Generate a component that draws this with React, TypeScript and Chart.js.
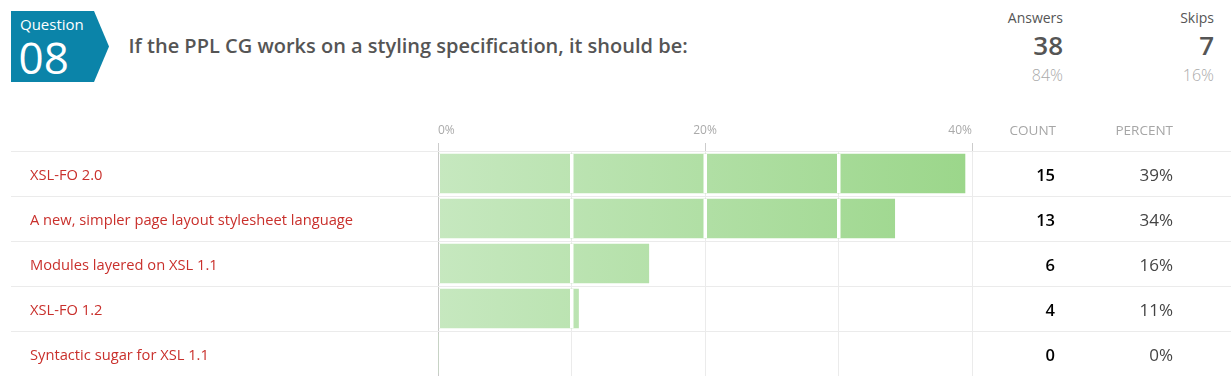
import React, { useEffect, useRef } from 'react';
import { Chart, registerables } from 'chart.js';

Chart.register(...registerables);

// ---- data ----
const categories = [
  'XSL-FO 2.0',
  'A new, simpler page layout stylesheet language',
  'Modules layered on XSL 1.1',
  'XSL-FO 1.2',
  'Syntactic sugar for XSL 1.1',
];
const counts = [15, 13, 6, 4, 0];
const answersCount = 38;
const skipsCount = 7;
const axisMax = 40;
const axisStep = 10;
const labeledTicks = [0, 20, 40];
const questionNumber = '08';
const questionText = 'If the PPL CG works on a styling specification, it should be:';

const percents = counts.map((c) => (c / answersCount) * 100);
const totalResponses = answersCount + skipsCount;

const FONT = "'Open Sans', 'Noto Sans', sans-serif";
const CANVAS_TOP = 100;
const CANVAS_H = 288;

function txt(
  content: string,
  left: number,
  baseline: number,
  size: number,
  color: string,
  weight: number = 400,
  width?: number,
  align: 'left' | 'right' = 'left'
) {
  const top = baseline - 0.888 * size;
  return (
    <div
      style={{
        position: 'absolute',
        left,
        top,
        width,
        textAlign: align,
        fontFamily: FONT,
        fontSize: size,
        fontWeight: weight,
        lineHeight: `${size}px`,
        color,
        whiteSpace: 'nowrap',
      }}
    >
      {content}
    </div>
  );
}

export default function App() {
  const ref = useRef<HTMLCanvasElement>(null);

  useEffect(() => {
    const canvas = ref.current!;

    const rowLines = {
      id: 'rowLines',
      beforeDatasetsDraw(chart: any) {
        const ys = chart.scales.y;
        const ctx = chart.ctx;
        const half = (ys.getPixelForValue(1) - ys.getPixelForValue(0)) / 2;
        ctx.save();
        ctx.fillStyle = '#ebebeb';
        categories.forEach((_, i) => {
          const py = Math.round(ys.getPixelForValue(i) - half);
          ctx.fillRect(11, py, 1220, 1);
        });
        ctx.restore();
      },
    };

    const gaps = {
      id: 'gaps',
      afterDatasetsDraw(chart: any) {
        const ctx = chart.ctx;
        const xs = chart.scales.x;
        const meta = chart.getDatasetMeta(0);
        ctx.save();
        meta.data.forEach((bar: any) => {
          const { x, y, height } = bar.getProps(['x', 'y', 'height'], true);
          const top = y - height / 2;
          for (let t = 0; t <= axisMax; t += axisStep) {
            const px = xs.getPixelForValue(t);
            if (px >= x) continue;
            if (t === 0) {
              ctx.fillStyle = '#c8c8c8';
              ctx.fillRect(Math.round(px), top, 1, height);
              ctx.fillStyle = '#ffffff';
              ctx.fillRect(Math.round(px) + 1, top, 1, height);
            } else {
              ctx.fillStyle = '#ffffff';
              ctx.fillRect(px - 1.5, top, 3.5, height);
            }
          }
        });
        ctx.restore();
      },
    };

    const columns = {
      id: 'columns',
      afterDraw(chart: any) {
        const ctx = chart.ctx;
        const ys = chart.scales.y;
        ctx.save();
        ctx.textAlign = 'right';
        ctx.textBaseline = 'alphabetic';
        ctx.font = `13.5px ${FONT}`;
        ctx.fillStyle = '#a6a6a6';
        ctx.fillText('COUNT', 1056, 135 - CANVAS_TOP);
        ctx.fillText('PERCENT', 1173, 135 - CANVAS_TOP);
        counts.forEach((c, i) => {
          const py = ys.getPixelForValue(i) + 7;
          ctx.font = `600 16.5px ${FONT}`;
          ctx.fillStyle = '#000000';
          ctx.fillText(String(c), 1055, py);
          ctx.font = `17px ${FONT}`;
          ctx.fillStyle = '#444444';
          ctx.fillText(Math.round(percents[i]) + '%', 1173, py);
        });
        ctx.restore();
      },
    };

    const chart = new Chart(canvas, {
      type: 'bar',
      data: {
        labels: categories,
        datasets: [
          {
            data: percents,
            barThickness: 39,
            borderWidth: 0,
            backgroundColor: (c: any) => {
              const { chart: ch } = c;
              const area = ch.chartArea;
              if (!area) return '#b5e2a8';
              const g = ch.ctx.createLinearGradient(area.left, 0, area.right, 0);
              g.addColorStop(0, '#c6e8bf');
              g.addColorStop(1, '#9bd68a');
              return g;
            },
          },
        ],
      },
      options: {
        responsive: false,
        animation: false,
        indexAxis: 'y',
        layout: { padding: { left: 30, right: 259, top: 0, bottom: 12 } },
        plugins: {
          legend: { display: false },
          tooltip: { enabled: false },
        },
        scales: {
          x: {
            position: 'top',
            min: 0,
            max: axisMax,
            afterFit: (s: any) => {
              s.height = 151 - CANVAS_TOP;
            },
            border: { display: false },
            grid: {
              color: (c: any) => (c.tick && c.tick.value === 0 ? '#c8c8c8' : '#ebebeb'),
              tickColor: (c: any) =>
                c.tick && labeledTicks.includes(c.tick.value) ? '#cccccc' : 'rgba(0,0,0,0)',
              tickLength: 8,
              lineWidth: 1,
            },
            ticks: {
              stepSize: axisStep,
              autoSkip: false,
              maxRotation: 0,
              align: 'inner',
              padding: 5,
              color: '#aaaaaa',
              font: { family: FONT, size: 12 },
              callback: (v: any) => (labeledTicks.includes(Number(v)) ? v + '%' : ''),
            },
          },
          y: {
            afterFit: (s: any) => {
              s.width = 408;
            },
            border: { display: false },
            grid: { display: false },
            ticks: {
              crossAlign: 'far',
              padding: 0,
              labelOffset: 2,
              color: '#c9302c',
              font: { family: FONT, size: 14.7 },
            },
          },
        },
      },
      plugins: [rowLines, gaps, columns],
    } as any);

    return () => chart.destroy();
  }, []);

  return (
    <div
      style={{
        position: 'absolute',
        left: 0,
        top: 0,
        width: 1231,
        height: 388,
        background: '#ffffff',
        overflow: 'hidden',
      }}
    >
      <div
        style={{
          position: 'absolute',
          left: 11,
          top: 11,
          width: 98,
          height: 71,
          background: '#0b84a9',
          clipPath: 'polygon(0 0, 83px 0, 98px 50%, 83px 100%, 0 100%)',
        }}
      />
      {txt('Question', 20, 30, 15, '#ffffff', 400)}
      {txt(questionNumber, 18.5, 74, 44, '#ffffff', 400)}
      {txt(questionText, 128.5, 53.5, 20, '#555555', 600)}
      {txt('Answers', 963, 23.3, 14, '#555555', 400, 100, 'right')}
      {txt(String(answersCount), 963, 55, 26, '#555555', 600, 100, 'right')}
      {txt(Math.round((answersCount / totalResponses) * 100) + '%', 963, 81.7, 16, '#aaaaaa', 300, 100, 'right')}
      {txt('Skips', 1114, 23.3, 14, '#555555', 400, 100, 'right')}
      {txt(String(skipsCount), 1114, 55, 26, '#555555', 600, 100, 'right')}
      {txt(Math.round((skipsCount / totalResponses) * 100) + '%', 1114, 81.7, 16, '#aaaaaa', 300, 100, 'right')}
      <canvas
        ref={ref}
        width={1231}
        height={CANVAS_H}
        style={{ position: 'absolute', left: 0, top: CANVAS_TOP, display: 'block' }}
      />
    </div>
  );
}
